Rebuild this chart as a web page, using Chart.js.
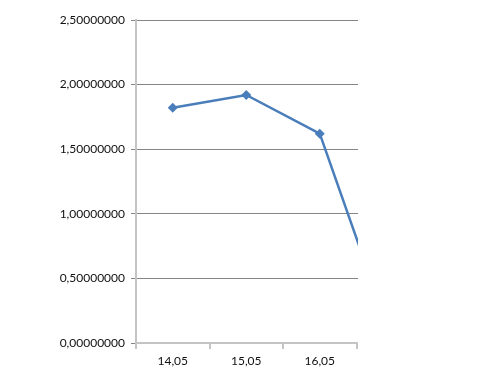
<!DOCTYPE html>
<html>
<head>
<meta charset="utf-8">
<script src="https://cdn.jsdelivr.net/npm/chart.js@4.4.1/dist/chart.umd.min.js"></script>
<style>
  html, body { margin: 0; padding: 0; background: #ffffff; }
  #frame { position: absolute; left: 0; top: 0; width: 358px; height: 383px; overflow: hidden; }
  #wrap { position: absolute; left: 0; top: 0; width: 440px; height: 383px; }
</style>
</head>
<body>
<div id="frame"><div id="wrap"><canvas id="chart" width="440" height="383"></canvas></div></div>
<script>
// Daily values; the series runs on past the visible edge of the plot
const categories = ['14,05', '15,05', '16,05', '17,05'];
const values = [1.82, 1.92, 1.62, 0.0];
const yTicks = [0, 0.5, 1.0, 1.5, 2.0, 2.5];

const fontFamily = 'Lato, "Liberation Sans", sans-serif';
const gridGray = '#868686';
const axisGray = '#c4c4c4';

new Chart(document.getElementById('chart'), {
  type: 'line',
  data: {
    labels: categories,
    datasets: [{
      data: values,
      borderColor: '#4a7ebb',
      backgroundColor: '#4a7ebb',
      borderWidth: 2.5,
      pointStyle: 'rectRot',
      pointRadius: 5,
      pointHoverRadius: 5,
      pointBorderWidth: 0,
      tension: 0,
      fill: false
    }]
  },
  options: {
    responsive: false,
    animation: false,
    devicePixelRatio: 1,
    layout: { padding: { top: 20, right: 10, left: 0, bottom: 0 } },
    plugins: { legend: { display: false }, tooltip: { enabled: false } },
    scales: {
      x: {
        type: 'category',
        offset: true,
        grid: {
          offset: true,
          drawOnChartArea: false,
          drawTicks: true,
          tickLength: 6,
          tickColor: axisGray,
          lineWidth: 2
        },
        border: { display: true, color: axisGray, width: 2 },
        ticks: {
          color: '#111111',
          font: { family: fontFamily, size: 12 },
          padding: 5,
          maxRotation: 0,
          autoSkip: false
        },
        afterFit: (scale) => { scale.height = 40; }
      },
      y: {
        min: 0,
        max: 2.5,
        afterBuildTicks: (scale) => { scale.ticks = yTicks.map(v => ({ value: v })); },
        grid: {
          color: gridGray,
          lineWidth: 1,
          drawTicks: true,
          tickLength: 5,
          tickColor: gridGray
        },
        border: { display: true, color: axisGray, width: 2 },
        ticks: {
          color: '#111111',
          font: { family: fontFamily, size: 12 },
          padding: 6,
          callback: (v) => Number(v).toFixed(8).replace('.', ',')
        },
        afterFit: (scale) => { scale.width = 136; }
      }
    }
  }
});
</script>
</body>
</html>
